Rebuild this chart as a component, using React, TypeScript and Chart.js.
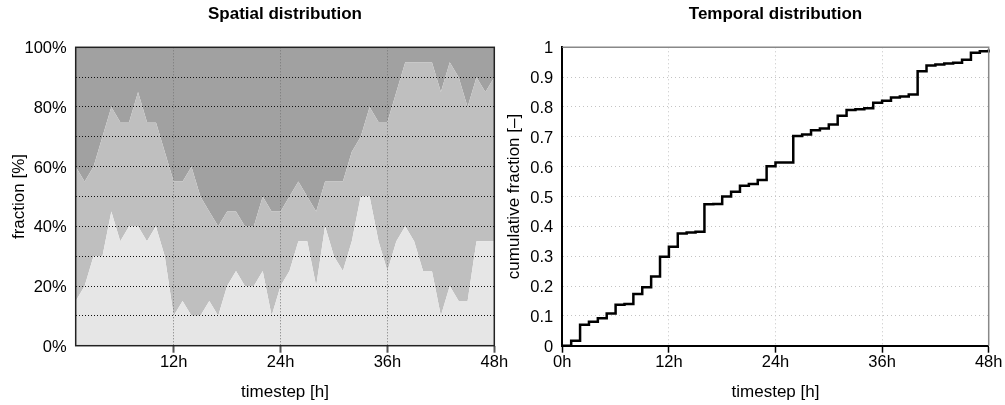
import React, { useEffect, useRef } from 'react';
import { Chart, registerables } from 'chart.js';

Chart.register(...registerables);

const FONT = "'Liberation Sans', Arial, Helvetica, sans-serif";
Chart.defaults.font.family = FONT;
Chart.defaults.color = '#000';

// ---------- Spatial distribution (stacked shares, %) ----------
const spatialHours = [
  1, 2, 3, 4, 5, 6, 7, 8, 9, 10, 11, 12, 13, 14, 15, 16, 17, 18, 19, 20, 21, 22, 23, 24,
  25, 26, 27, 28, 29, 30, 31, 32, 33, 34, 35, 36, 37, 38, 39, 40, 41, 42, 43, 44, 45, 46, 47, 48,
];
const shareLow = [
  15, 20, 30, 30, 45, 35, 40, 40, 35, 40, 30, 10, 15, 10, 10, 15, 10, 20, 25, 20, 20, 25, 10, 20,
  25, 35, 35, 20, 40, 30, 25, 35, 50, 50, 35, 25, 35, 40, 35, 25, 25, 10, 20, 15, 15, 35, 35, 35,
];
const shareMid = [
  45, 35, 30, 40, 35, 40, 35, 45, 40, 35, 35, 45, 40, 50, 40, 30, 30, 25, 20, 20, 20, 25, 35, 25,
  25, 20, 15, 25, 15, 25, 30, 30, 20, 30, 40, 50, 50, 55, 60, 70, 70, 75, 75, 75, 65, 55, 50, 55,
];
const shareHigh = [
  40, 45, 40, 30, 20, 25, 25, 15, 25, 25, 35, 45, 45, 40, 50, 55, 60, 55, 55, 60, 60, 50, 55, 55,
  50, 45, 50, 55, 45, 45, 45, 35, 30, 20, 25, 25, 15, 5, 5, 5, 5, 15, 5, 10, 20, 10, 15, 10,
];
const spatialTickHours = [12, 24, 36, 48];

// ---------- Temporal distribution (cumulative fraction) ----------
const temporalHours = [
  0, 1, 2, 3, 4, 5, 6, 7, 8, 9, 10, 11, 12, 13, 14, 15, 16, 17, 18, 19, 20, 21, 22, 23, 24,
  25, 26, 27, 28, 29, 30, 31, 32, 33, 34, 35, 36, 37, 38, 39, 40, 41, 42, 43, 44, 45, 46, 47, 48,
];
const cumulativeFraction = [
  0, 0.017, 0.07, 0.08, 0.092, 0.108, 0.137, 0.14, 0.173, 0.196, 0.232, 0.298, 0.332, 0.376,
  0.379, 0.382, 0.474, 0.475, 0.5, 0.516, 0.536, 0.542, 0.555, 0.601, 0.614, 0.614, 0.703,
  0.708, 0.722, 0.728, 0.741, 0.771, 0.79, 0.792, 0.796, 0.814, 0.821, 0.832, 0.835, 0.842,
  0.92, 0.939, 0.942, 0.946, 0.948, 0.958, 0.982, 0.987, 0.993,
];
const temporalTickHours = [0, 12, 24, 36, 48];

const COLOR_LOW = '#e6e6e6';
const COLOR_MID = '#bfbfbf';
const COLOR_HIGH = '#a1a1a1';

function framePlugin(kind: 'box' | 'topright') {
  return {
    id: 'frame_' + kind,
    afterLayout(chart: any) {
      const tb = chart.titleBlock;
      if (tb) {
        tb.left = chart.chartArea.left;
        tb.right = chart.chartArea.right;
      }
    },
    afterDraw(chart: any) {
      const { ctx, chartArea: a } = chart;
      ctx.save();
      if (kind === 'box') {
        ctx.strokeStyle = '#222';
        ctx.lineWidth = 1.5;
        ctx.strokeRect(a.left, a.top, a.right - a.left, a.bottom - a.top);
      } else {
        ctx.strokeStyle = '#888';
        ctx.lineWidth = 1.5;
        ctx.beginPath();
        ctx.moveTo(a.left, a.top);
        ctx.lineTo(a.right, a.top);
        ctx.lineTo(a.right, a.bottom);
        ctx.stroke();
      }
      ctx.restore();
    },
  };
}

function SpatialChart() {
  const ref = useRef<HTMLCanvasElement>(null);
  useEffect(() => {
    const mk = (data: number[], color: string, fill: any) => ({
      data,
      backgroundColor: color,
      borderColor: color,
      borderWidth: 0,
      pointRadius: 0,
      tension: 0,
      fill,
    });
    const chart = new Chart(ref.current!, {
      type: 'line',
      data: {
        labels: spatialHours,
        datasets: [
          mk(shareLow, COLOR_LOW, 'origin'),
          mk(shareMid, COLOR_MID, '-1'),
          mk(shareHigh, COLOR_HIGH, '-1'),
        ],
      },
      options: {
        animation: false,
        responsive: false,
        devicePixelRatio: 1,
        layout: { padding: { left: 0, right: 20.7, top: 0, bottom: 0 } },
        plugins: {
          legend: { display: false },
          tooltip: { enabled: false },
          title: {
            display: true,
            text: 'Spatial distribution',
            color: '#000',
            font: { size: 17, weight: 'bold' },
            padding: { top: 4, bottom: 22.9 },
          },
        },
        scales: {
          x: {
            type: 'linear',
            min: 1,
            max: 48,
            afterBuildTicks: (s: any) => {
              s.ticks = spatialTickHours.map((v) => ({ value: v }));
            },
            afterFit: (s: any) => {
              s.height = 59.3;
            },
            grid: {
              color: '#777',
              lineWidth: 1,
              z: 1,
              drawTicks: true,
              tickLength: 7,
              tickColor: '#555',
              tickWidth: 2,
            },
            border: { display: false, dash: [1, 2] },
            ticks: {
              padding: 0,
              font: { size: 16.5 },
              color: '#000',
              autoSkip: false,
              maxRotation: 0,
              callback: (v: any) => v + 'h',
            },
            title: {
              display: true,
              text: 'timestep [h]',
              color: '#000',
              font: { size: 17 },
              padding: { top: 0, bottom: 2.3 },
            },
          },
          y: {
            type: 'linear',
            stacked: true,
            min: 0,
            max: 100,
            afterFit: (s: any) => {
              s.width = 75.7;
            },
            grid: { color: '#111', lineWidth: 1, z: 1, drawTicks: false },
            border: { display: false, dash: [1, 2] },
            ticks: {
              stepSize: 10,
              padding: 9,
              labelOffset: 1.5,
              autoSkip: false,
              font: { size: 16.5 },
              color: '#000',
              callback: (v: any) => (Math.round(v) % 20 === 0 ? Math.round(v) + '%' : ''),
            },
            title: {
              display: true,
              text: 'fraction [%]',
              color: '#000',
              font: { size: 17 },
              padding: { top: 9, bottom: 0 },
            },
          },
        },
      } as any,
      plugins: [framePlugin('box')],
    });
    return () => chart.destroy();
  }, []);
  return (
    <canvas
      ref={ref}
      width={515}
      height={405}
      style={{ position: 'absolute', left: 0, top: 0, width: 515, height: 405 }}
    />
  );
}

function TemporalChart() {
  const ref = useRef<HTMLCanvasElement>(null);
  useEffect(() => {
    const chart = new Chart(ref.current!, {
      type: 'line',
      data: {
        labels: temporalHours,
        datasets: [
          {
            data: cumulativeFraction,
            borderColor: '#000',
            backgroundColor: '#000',
            borderWidth: 2.5,
            pointRadius: 0,
            stepped: 'before',
            fill: false,
            clip: 5,
          },
        ],
      },
      options: {
        animation: false,
        responsive: false,
        devicePixelRatio: 1,
        layout: { padding: { left: 0, right: 16.3, top: 0, bottom: 0 } },
        plugins: {
          legend: { display: false },
          tooltip: { enabled: false },
          title: {
            display: true,
            text: 'Temporal distribution',
            color: '#000',
            font: { size: 17, weight: 'bold' },
            padding: { top: 4, bottom: 22.9 },
          },
        },
        scales: {
          x: {
            type: 'linear',
            min: 0,
            max: 48,
            afterBuildTicks: (s: any) => {
              s.ticks = temporalTickHours.map((v) => ({ value: v }));
            },
            afterFit: (s: any) => {
              s.height = 59.3;
            },
            grid: {
              color: '#c4c4c4',
              lineWidth: 1,
              drawTicks: true,
              tickLength: 7,
              tickColor: '#000',
              tickWidth: 1.5,
            },
            border: { display: true, color: '#000', width: 2, dash: [1, 3] },
            ticks: {
              padding: 0,
              font: { size: 16.5 },
              color: '#000',
              autoSkip: false,
              maxRotation: 0,
              callback: (v: any) => v + 'h',
            },
            title: {
              display: true,
              text: 'timestep [h]',
              color: '#000',
              font: { size: 17 },
              padding: { top: 0, bottom: 2.3 },
            },
          },
          y: {
            type: 'linear',
            min: 0,
            max: 1,
            afterFit: (s: any) => {
              s.width = 62.3;
            },
            grid: { color: '#c4c4c4', lineWidth: 1, drawTicks: false },
            border: { display: true, color: '#000', width: 2, dash: [1, 3] },
            ticks: {
              stepSize: 0.1,
              padding: 9,
              labelOffset: 1.5,
              autoSkip: false,
              font: { size: 16.5 },
              color: '#000',
              callback: (v: any) => {
                const r = Math.round(v * 10) / 10;
                return r === 0 ? '0' : r === 1 ? '1' : r.toFixed(1);
              },
            },
            title: {
              display: true,
              text: 'cumulative fraction [–]',
              color: '#000',
              font: { size: 17 },
              padding: { top: 4, bottom: 0 },
            },
          },
        },
      } as any,
      plugins: [framePlugin('topright')],
    });
    return () => chart.destroy();
  }, []);
  return (
    <canvas
      ref={ref}
      width={505}
      height={405}
      style={{ position: 'absolute', left: 500, top: 0, width: 505, height: 405 }}
    />
  );
}

export default function App() {
  return (
    <div
      style={{
        position: 'absolute',
        left: 0,
        top: 0,
        width: 1005,
        height: 405,
        background: '#fff',
        overflow: 'hidden',
      }}
    >
      <SpatialChart />
      <TemporalChart />
    </div>
  );
}
